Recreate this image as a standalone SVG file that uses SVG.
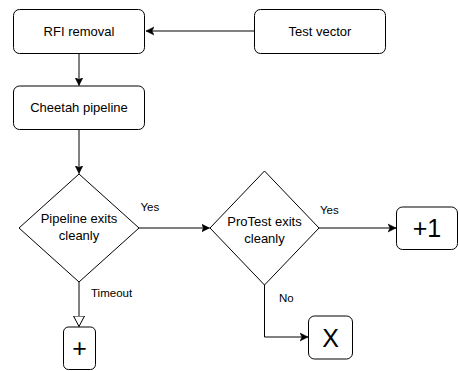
<svg xmlns="http://www.w3.org/2000/svg" width="460" height="371" viewBox="0 0 460 371">
<style>
.box{fill:#fff;stroke:#000;stroke-width:1}
.t{font-family:"Liberation Sans",Arial,sans-serif;font-size:13px;fill:#000;text-anchor:middle}
.lbl{font-family:"Liberation Sans",Arial,sans-serif;font-size:11.5px;fill:#000}
.big{font-family:"Liberation Sans",Arial,sans-serif;font-size:25px;fill:#000;text-anchor:middle}
.c{fill:none;stroke:#000;stroke-width:1}
</style>
<defs>
<marker id="arr" markerWidth="10" markerHeight="10" refX="8" refY="5" orient="auto" markerUnits="userSpaceOnUse">
<path d="M0,1 L8,5 L0,9 L2,5 Z" fill="#000" stroke="#000" stroke-width="0.5"/>
</marker>
<marker id="hollow" markerWidth="14" markerHeight="12" refX="11" refY="6" orient="auto" markerUnits="userSpaceOnUse">
<path d="M0.5,0.5 L11,6 L0.5,11.5 Z" fill="#fff" stroke="#000" stroke-width="1"/>
</marker>
</defs>
<rect width="460" height="371" fill="#fff"/>
<g id="connectors">
<path class="c" d="M254.5,31 L146,31" marker-end="url(#arr)"/>
<path class="c" d="M79,53.5 L79,85.5" stroke-width="2" marker-end="url(#arr)"/>
<path class="c" d="M79,129.5 L79,173.5" marker-end="url(#arr)"/>
<path class="c" d="M139,228 L209.5,228" marker-end="url(#arr)"/>
<path class="c" d="M319,228 L396,228" marker-end="url(#arr)"/>
<path class="c" d="M79,282 L79,326.5" marker-end="url(#hollow)"/>
<path class="c" d="M264.5,285 L264.5,337 L308,337" marker-end="url(#arr)"/>
<text class="lbl" x="140.5" y="211">Yes</text>
<text class="lbl" x="320" y="214">Yes</text>
<text class="lbl" x="91" y="297">Timeout</text>
<text class="lbl" x="279" y="302">No</text>
</g>
<g id="rfi">
<rect class="box" x="13.5" y="9.5" width="131" height="44" rx="6"/>
<text class="t" x="79" y="36">RFI removal</text>
</g>
<g id="testvector">
<rect class="box" x="254.5" y="9.5" width="131" height="44" rx="6"/>
<text class="t" x="320" y="36">Test vector</text>
</g>
<g id="cheetah">
<rect class="box" x="13.5" y="86" width="131" height="43.5" rx="6"/>
<text class="t" x="79" y="112">Cheetah pipeline</text>
</g>
<g id="pipeline-exits">
<path class="box" d="M79,174 L139,228 L79,282 L19,228 Z"/>
<text class="t" x="79" y="222.5">Pipeline exits</text>
<text class="t" x="79" y="239.5">cleanly</text>
</g>
<g id="protest-exits">
<path class="box" d="M264.5,171 L319,228 L264.5,285 L210,228 Z"/>
<text class="t" x="264.5" y="225.5">ProTest exits</text>
<text class="t" x="264.5" y="242.5">cleanly</text>
</g>
<g id="plus1">
<rect class="box" x="396.5" y="207" width="61" height="42.5" rx="6"/>
<text class="big" x="427" y="237">+1</text>
</g>
<g id="plus">
<rect class="box" x="63.5" y="327" width="32" height="42.5" rx="5"/>
<text class="big" x="79.5" y="357">+</text>
</g>
<g id="x">
<rect class="box" x="308.5" y="316" width="44" height="43" rx="6"/>
<text class="big" x="330.5" y="347">X</text>
</g>
</svg>
